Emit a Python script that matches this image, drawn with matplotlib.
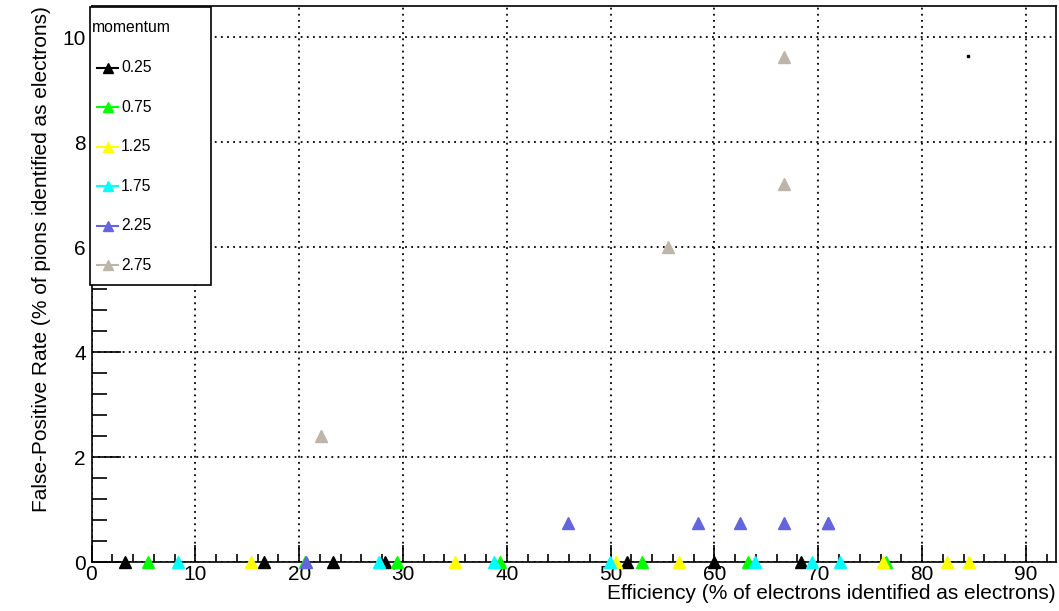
import numpy as np
import matplotlib
matplotlib.use("Agg")
import matplotlib.pyplot as plt
from matplotlib.ticker import MultipleLocator
from matplotlib.patches import Rectangle
from matplotlib.lines import Line2D

plt.rcParams['font.family'] = ['Liberation Sans', 'DejaVu Sans']

W, H = 1059, 611

# momentum bins and their colours
momenta = ["0.25", "0.75", "1.25", "1.75", "2.25", "2.75"]
colors = ["black", "#00ff00", "#ffff00", "#00ffff", "#6464dc", "#bdb5aa"]

# efficiency (%) / false-positive rate (%) per momentum bin
eff_025 = [3.2, 16.6, 23.3, 28.3, 51.6, 60.0, 68.3]
fpr_025 = [0, 0, 0, 0, 0, 0, 0]
eff_075 = [5.4, 20.6, 29.4, 39.3, 53.0, 63.2, 76.5]
fpr_075 = [0, 0, 0, 0, 0, 0, 0]
eff_125 = [15.4, 35.0, 50.5, 56.6, 76.2, 82.4, 84.5]
fpr_125 = [0, 0, 0, 0, 0, 0, 0]
eff_175 = [8.3, 27.7, 38.8, 49.9, 63.9, 69.4, 72.1]
fpr_175 = [0, 0, 0, 0, 0, 0, 0]
eff_225 = [20.7, 45.9, 58.4, 62.5, 66.7, 70.9, 70.9]
fpr_225 = [0, 0.74, 0.74, 0.74, 0.74, 0.74, 0.74]
eff_275 = [22.1, 55.5, 66.7, 66.7]
fpr_275 = [2.4, 6.0, 7.2, 9.62]

# stray dot in the top right
stray_x = [84.4]
stray_y = [9.64]

effs = [eff_025, eff_075, eff_125, eff_175, eff_225, eff_275]
fprs = [fpr_025, fpr_075, fpr_125, fpr_175, fpr_225, fpr_275]

fig = plt.figure(figsize=(W / 100, H / 100), dpi=100)
ax = fig.add_axes([91.5 / W, 1 - 562 / H, (1056 - 91.5) / W, (562 - 6) / H])

for eff, fpr, c in zip(effs, fprs, colors):
    ax.plot(eff, fpr, linestyle='None', color=c, marker='^',
            markersize=8, clip_on=False, zorder=3)

ax.plot(stray_x, stray_y, linestyle='None', marker='s', markersize=1.5, color='black')

ax.set_xlim(0, 92.9)
ax.set_ylim(0, 10.6)

ax.xaxis.set_major_locator(MultipleLocator(10))
ax.xaxis.set_minor_locator(MultipleLocator(2))
ax.yaxis.set_major_locator(MultipleLocator(2))
ax.yaxis.set_minor_locator(MultipleLocator(0.4))

ax.tick_params(axis='x', which='major', direction='in', length=12, width=1.2, labelsize=15, pad=2)
ax.tick_params(axis='x', which='minor', direction='in', length=6, width=1.2)
ax.tick_params(axis='y', which='major', direction='in', length=21, width=1.2, labelsize=15, pad=4)
ax.tick_params(axis='y', which='minor', direction='in', length=10.5, width=1.2)

ax.grid(True, which='major', color='black', linestyle=(0, (1, 2.4)), linewidth=1.3)
for sp in ax.spines.values():
    sp.set_linewidth(1.2)

ax.set_xlabel("Efficiency (% of electrons identified as electrons)", fontsize=15, loc='right', labelpad=0)
ax.set_ylabel("False-Positive Rate (% of pions identified as electrons)", fontsize=15, loc='top', labelpad=8)

# ROOT-style legend box, placed in figure pixels
def fx(px):
    return px / W

def fy(py):
    return 1 - py / H

tf = fig.transFigure
box = Rectangle((fx(89.5), fy(285)), fx(211) - fx(89.5), fy(7) - fy(285), transform=tf,
                facecolor='white', edgecolor='black', linewidth=1.2, zorder=5)
fig.add_artist(box)
fig.text(fx(92), fy(27), "momentum", fontsize=11.3, va='center', ha='left', zorder=6)
for i, (c, lab) in enumerate(zip(colors, momenta)):
    yy = fy(68 + 39.4 * i)
    fig.add_artist(Line2D([fx(97), fx(118)], [yy, yy], transform=tf, color=c, linewidth=1.5, zorder=6))
    fig.add_artist(Line2D([fx(107.5)], [yy], transform=tf, color=c, marker='^', markersize=7.5,
                          linestyle='None', zorder=6))
    fig.text(fx(121), yy, lab, fontsize=11.3, va='center', ha='left', zorder=6)

fig.savefig("out.png", dpi=100)
